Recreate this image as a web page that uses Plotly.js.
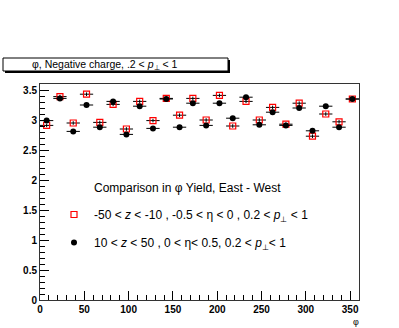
<!DOCTYPE html>
<html>
<head>
<meta charset="utf-8">
<script src="https://cdn.plot.ly/plotly-3.0.1.min.js"></script>
<style>
  html, body { margin: 0; padding: 0; background: #fff; }
  #plot { width: 399px; height: 328px; }
</style>
</head>
<body>
<div id="plot"></div>
<script>
// phi bin centres (15 degree bins)
let phiBins = [7.5, 22.5, 37.5, 52.5, 67.5, 82.5, 97.5, 112.5, 127.5, 142.5, 157.5, 172.5,
               187.5, 202.5, 217.5, 232.5, 247.5, 262.5, 277.5, 292.5, 307.5, 322.5, 337.5, 352.5];
let binHalfWidth = 7.5;

// east - west ratio, -50 < z < -10 (red open squares)
let yieldNegZ = [2.91, 3.39, 2.95, 3.43, 2.96, 3.26, 2.85, 3.31, 2.99, 3.36, 3.08, 3.36,
                 3.00, 3.41, 2.90, 3.31, 3.00, 3.21, 2.93, 3.28, 2.73, 3.10, 2.97, 3.35];
// 10 < z < 50 (black dots)
let yieldPosZ = [2.99, 3.36, 2.81, 3.25, 2.88, 3.31, 2.76, 3.23, 2.86, 3.35, 2.88, 3.28,
                 2.91, 3.28, 3.03, 3.38, 2.92, 3.13, 2.91, 3.20, 2.82, 3.23, 2.88, 3.35];
let yieldErr = 0.03;

// plot area in pixels, used to place the boxes and texts
let plotL = 40, plotR = 359, plotT = 84, plotB = 300;
let px = x => (x - plotL) / (plotR - plotL);
let py = y => (plotB - y) / (plotB - plotT);

let font = "Liberation Sans, Arial, sans-serif";

let negTrace = {
    x: phiBins,
    y: yieldNegZ,
    name: "-50 < <i>z</i> < -10 , -0.5 < η < 0 , 0.2 < <i>p</i><sub>⊥</sub> < 1",
    type: "scatter",
    mode: "markers",
    legendgroup: "a",
    marker: {symbol: "square-open", size: 6, color: "#ff0000", line: {width: 1.2}},
    error_x: {type: "constant", value: binHalfWidth, width: 0, thickness: 1, color: "#000"},
    error_y: {type: "constant", value: yieldErr, width: 0, thickness: 1, color: "#000"}
};

let posTrace = {
    x: phiBins,
    y: yieldPosZ,
    name: "10 < <i>z</i> < 50 , 0 < η< 0.5, 0.2 < <i>p</i><sub>⊥</sub>< 1",
    type: "scatter",
    mode: "markers",
    legendgroup: "b",
    marker: {symbol: "circle", size: 6, color: "#000"},
    error_x: {type: "constant", value: binHalfWidth, width: 0, thickness: 1, color: "#000"},
    error_y: {type: "constant", value: yieldErr, width: 0, thickness: 1, color: "#000"}
};

let layout = {
    width: 399,
    height: 328,
    margin: {l: plotL, r: 399 - plotR, t: plotT, b: 328 - plotB},
    paper_bgcolor: "#fff",
    plot_bgcolor: "#fff",
    font: {family: font, color: "#000", size: 12},
    showlegend: true,
    legend: {
        x: px(54), y: py(200), xanchor: "left", yanchor: "top",
        bgcolor: "rgba(0,0,0,0)",
        traceorder: "grouped",
        tracegroupgap: 9,
        font: {family: font, size: 12}
    },
    xaxis: {
        range: [0, 360],
        dtick: 50,
        ticks: "inside",
        ticklen: 9,
        tickcolor: "#000",
        minor: {dtick: 10, ticks: "inside", ticklen: 5, tickcolor: "#000"},
        showgrid: false,
        zeroline: false,
        showline: true,
        mirror: true,
        linecolor: "#333",
        linewidth: 1,
        tickfont: {family: font, size: 10, weight: "bold"}
    },
    yaxis: {
        range: [0, 3.6],
        dtick: 0.5,
        ticks: "inside",
        ticklen: 9,
        tickcolor: "#000",
        minor: {dtick: 0.1, ticks: "inside", ticklen: 5, tickcolor: "#000"},
        showgrid: false,
        zeroline: false,
        showline: true,
        mirror: true,
        linecolor: "#333",
        linewidth: 1,
        tickfont: {family: font, size: 10, weight: "bold"}
    },
    shapes: [
        // shadow of the title box
        {type: "rect", xref: "paper", yref: "paper",
         x0: px(5), x1: px(230), y0: py(73), y1: py(60),
         fillcolor: "#000", line: {width: 0}},
        {type: "rect", xref: "paper", yref: "paper",
         x0: px(3), x1: px(228), y0: py(71), y1: py(58),
         fillcolor: "#fff", line: {color: "#000", width: 1}}
    ],
    annotations: [
        {text: "φ, Negative charge, .2 < <i>p</i><sub>⊥</sub> < 1",
         xref: "paper", yref: "paper", x: px(104), y: py(65),
         xanchor: "center", yanchor: "middle", showarrow: false,
         font: {family: font, size: 10.5}},
        {text: "Comparison in φ Yield, East - West",
         xref: "paper", yref: "paper", x: px(92), y: py(188),
         xanchor: "left", yanchor: "middle", showarrow: false,
         font: {family: font, size: 12}},
        {text: "φ",
         xref: "paper", yref: "paper", x: px(356), y: py(322),
         xanchor: "center", yanchor: "middle", showarrow: false,
         font: {family: font, size: 9}}
    ]
};

Plotly.newPlot("plot", [negTrace, posTrace], layout, {displayModeBar: false, staticPlot: true});
</script>
</body>
</html>
